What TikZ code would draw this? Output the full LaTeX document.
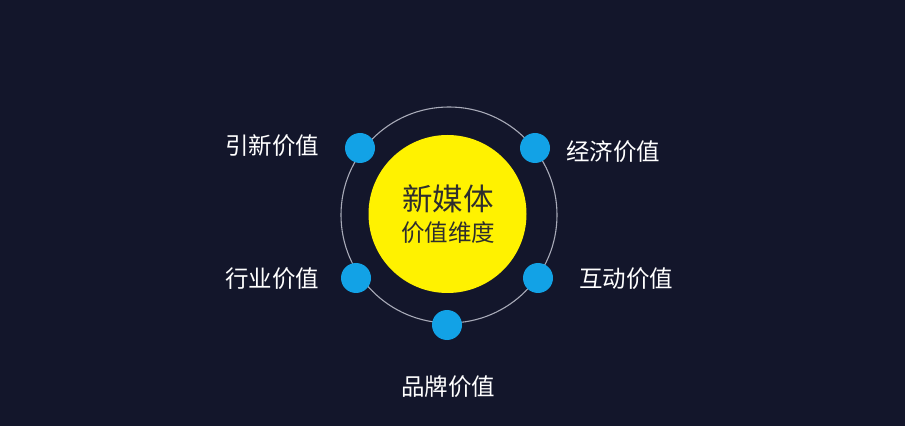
\documentclass[tikz,border=0pt]{standalone}
\usepackage{fontspec}
\newfontfamily\cjk{Noto Sans CJK SC}
\definecolor{bg}{HTML}{13162B}
\definecolor{dotblue}{HTML}{12A2E6}
\definecolor{ringgray}{HTML}{A8AAB8}
\definecolor{yel}{HTML}{FFF200}
\definecolor{darktext}{HTML}{2E2E2E}
\begin{document}
\begin{tikzpicture}[x=1pt,y=1pt,
  dot/.style={circle,fill=dotblue,minimum size=30pt,inner sep=0pt},
  lab/.style={text=white,font=\cjk\fontsize{23.5}{26}\selectfont,inner sep=0pt}]
\fill[bg] (0,0) rectangle (905,426);
\useasboundingbox (0,0) rectangle (905,426);
\node[circle,draw=ringgray,line width=1.1pt,minimum size=216pt,inner sep=0pt] (ring) at (449,211) {};
\node[circle,fill=yel,minimum size=158pt,inner sep=0pt] (core) at (447.5,212) {};
\node[text=darktext,font=\cjk\fontsize{30.5}{33}\selectfont,inner sep=0pt] (t1) at (448,227) {新媒体};
\node[text=darktext,font=\cjk\fontsize{23.5}{26}\selectfont,inner sep=0pt] (t2) at (448,193) {价值维度};
\node[dot] (d1) at (360,278) {};
\node[dot] (d2) at (535,278) {};
\node[dot] (d3) at (356,148) {};
\node[dot] (d4) at (538,148) {};
\node[dot] (d5) at (447,101) {};
\node[lab] (l1) at (272,280) {引新价值};
\node[lab] (l2) at (613,274) {经济价值};
\node[lab] (l3) at (272,147) {行业价值};
\node[lab] (l4) at (626,147) {互动价值};
\node[lab] (l5) at (448,39) {品牌价值};
\end{tikzpicture}
\end{document}
